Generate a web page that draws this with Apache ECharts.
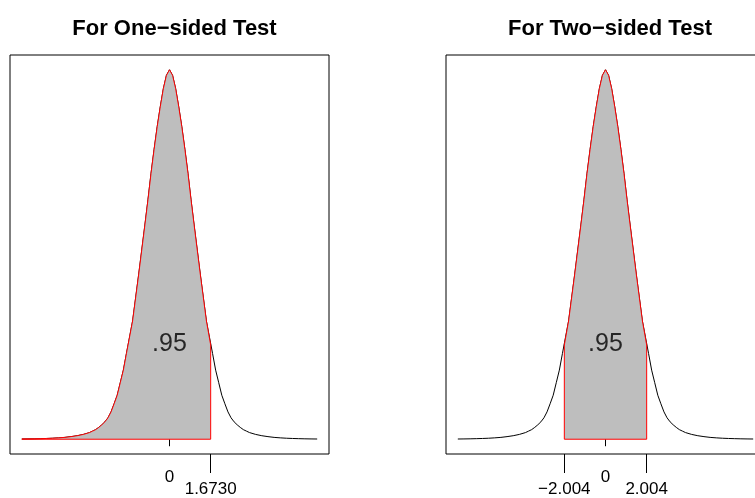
<!DOCTYPE html>
<html>
<head>
<meta charset="utf-8">
<script src="https://cdn.jsdelivr.net/npm/echarts@6/dist/echarts.min.js"></script>
<style>
  html, body { margin: 0; padding: 0; background: #fff; overflow: hidden; }
  /* the right panel runs past the window edge, so the canvas is wider than the window */
  #chart { width: 800px; height: 498px; }
</style>
</head>
<body>
<div id="chart"></div>
<script>
// curve (height relative to the peak)
const xs = [-6, -5.75, -5.5, -5.25, -5, -4.75, -4.5, -4.25, -4, -3.75, -3.5, -3.25, -3.125, -3, -2.875, -2.75, -2.625, -2.5, -2.375, -2.25, -2.125, -2, -1.875, -1.75, -1.5, -1.25,
  -1, -0.875, -0.75, -0.625, -0.5, -0.375, -0.25, -0.125,
  0, 0.125, 0.25, 0.375, 0.5, 0.625, 0.75, 0.875, 1,
  1.25, 1.5, 1.75, 1.875, 2, 2.125, 2.25, 2.375, 2.5, 2.625, 2.75, 2.875, 3, 3.125, 3.25, 3.5, 3.75, 4, 4.25, 4.5, 4.75, 5, 5.25, 5.5, 5.75, 6]
const ys = [0.0006, 0.0008, 0.0011, 0.0015, 0.002, 0.0027, 0.0037, 0.005, 0.007, 0.0095, 0.013, 0.018, 0.022, 0.026, 0.032, 0.039, 0.047, 0.058, 0.074, 0.096, 0.119, 0.153, 0.187, 0.232, 0.320, 0.447,
  0.580, 0.648, 0.720, 0.785, 0.846, 0.900, 0.949, 0.985,
  1.000, 0.985, 0.949, 0.900, 0.846, 0.785, 0.720, 0.648, 0.580,
  0.447, 0.320, 0.232, 0.187, 0.153, 0.119, 0.096, 0.074, 0.058, 0.047, 0.039, 0.032, 0.026, 0.022, 0.018, 0.013, 0.0095, 0.007, 0.005, 0.0037, 0.0027, 0.002, 0.0015, 0.0011, 0.0008, 0.0006]

const titles = ['For One\u2212sided Test', 'For Two\u2212sided Test']
const cut = 1.673
const cutHeight = 0.255
const leftTicks = [cut]
const leftTickLabels = ['1.6730']
const rightTicks = [-cut, cut]
const rightTickLabels = ['\u22122.004', '2.004']
const centerTick = [0]
const areaLabel = '.95'
const areaLabelPos = [0, 0.257]

const curve = xs.map((x, i) => [x, ys[i]])

const leftShade = curve.filter(p => p[0] < cut)
  .concat([[cut, cutHeight], [cut, 0], [xs[0], 0]])
const rightShade = [[-cut, 0], [-cut, cutHeight]]
  .concat(curve.filter(p => p[0] > -cut && p[0] < cut))
  .concat([[cut, cutHeight], [cut, 0], [-cut, 0]])

const font = '"Liberation Sans", Arial, Helvetica, sans-serif'

const makeX = (gridIndex, ticks, labels, tickLen, margin) => ({
  type: 'value',
  gridIndex,
  min: -6.48,
  max: 6.48,
  position: 'bottom',
  splitLine: { show: false },
  axisLine: { show: false },
  axisTick: {
    show: true,
    length: tickLen,
    customValues: ticks,
    lineStyle: { color: '#000', width: 1 }
  },
  axisLabel: {
    show: true,
    customValues: ticks,
    margin,
    color: '#000',
    fontSize: 17,
    fontFamily: font,
    hideOverlap: false,
    formatter: v => {
      const i = ticks.findIndex(t => Math.abs(t - v) < 1e-6)
      return i >= 0 ? labels[i] : ''
    }
  }
})

const makeY = gridIndex => ({
  type: 'value',
  gridIndex,
  min: -0.04,
  max: 1.04,
  show: false,
  splitLine: { show: false }
})

const chart = echarts.init(document.getElementById('chart'))

const shadeSeries = (xi, yi, data) => ({
  type: 'line',
  xAxisIndex: xi,
  yAxisIndex: yi,
  data,
  symbol: 'none',
  silent: true,
  z: 3,
  lineStyle: { color: '#ff0000', width: 1 },
  areaStyle: { color: '#bebebe', opacity: 1 }
})

const curveSeries = (xi, yi) => ({
  type: 'line',
  xAxisIndex: xi,
  yAxisIndex: yi,
  data: curve,
  symbol: 'none',
  silent: true,
  z: 2,
  lineStyle: { color: '#000', width: 1 }
})

const labelSeries = (xi, yi) => ({
  type: 'scatter',
  xAxisIndex: xi,
  yAxisIndex: yi,
  data: [areaLabelPos],
  symbolSize: 1,
  itemStyle: { color: 'rgba(0,0,0,0)' },
  z: 5,
  label: {
    show: true,
    position: 'inside',
    formatter: areaLabel,
    color: '#000',
    fontSize: 25,
    fontFamily: font
  }
})

chart.setOption({
  animation: false,
  backgroundColor: '#fff',
  title: [
    { text: titles[0], left: 169.5, top: 13, textAlign: 'center',
      textStyle: { fontSize: 22, fontWeight: 'bold', color: '#000', fontFamily: font } },
    { text: titles[1], left: 605, top: 13, textAlign: 'center',
      textStyle: { fontSize: 22, fontWeight: 'bold', color: '#000', fontFamily: font } }
  ],
  grid: [
    { left: 10, top: 55, width: 319, height: 402, show: true, borderColor: '#000', borderWidth: 1, containLabel: false },
    { left: 446, top: 55, width: 319, height: 402, show: true, borderColor: '#000', borderWidth: 1, containLabel: false }
  ],
  xAxis: [
    makeX(0, centerTick, ['0'], 7, 15),
    makeX(0, leftTicks, leftTickLabels, 19, 27),
    makeX(1, centerTick, ['0'], 7, 15),
    makeX(1, rightTicks, rightTickLabels, 19, 27)
  ],
  yAxis: [makeY(0), makeY(1)],
  series: [
    curveSeries(0, 0),
    shadeSeries(0, 0, leftShade),
    labelSeries(0, 0),
    curveSeries(2, 1),
    shadeSeries(2, 1, rightShade),
    labelSeries(2, 1)
  ]
})

window.addEventListener('resize', () => chart.resize())
</script>
</body>
</html>
